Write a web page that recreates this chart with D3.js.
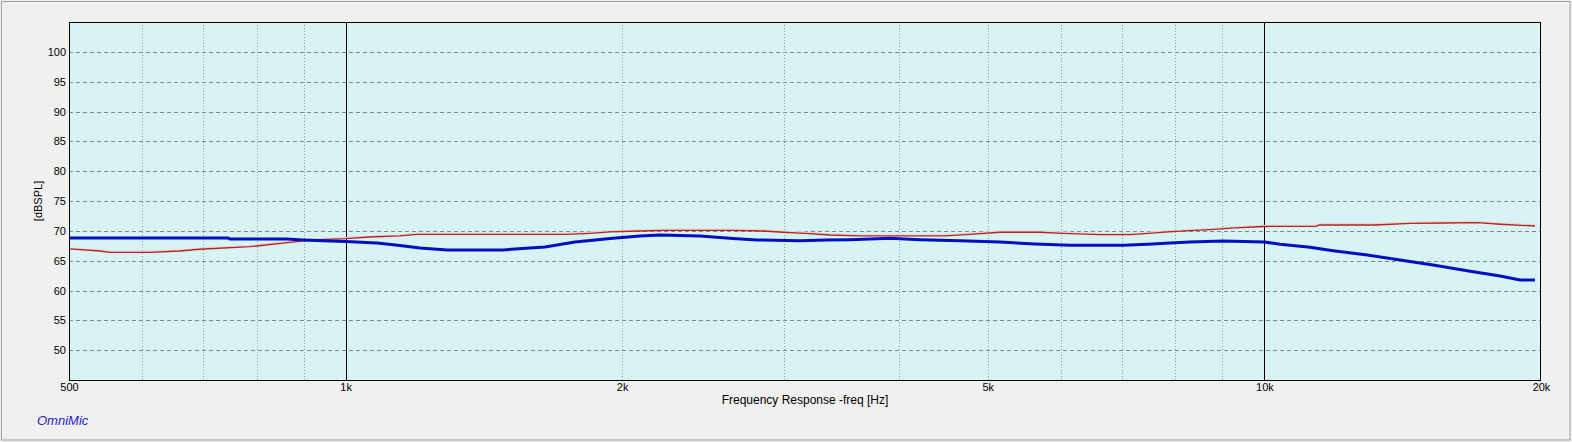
<!DOCTYPE html>
<html>
<head>
<meta charset="utf-8">
<script src="https://cdn.jsdelivr.net/npm/d3@7"></script>
<style>
  html, body { margin: 0; padding: 0; background: #f0f0f0; }
  svg { display: block; }
  text { font-family: "Liberation Sans", Arial, sans-serif; }
</style>
</head>
<body>
<script>
// ---- data ----
const blueFreq = [500, 745, 748, 863, 899, 962, 1000, 1082, 1146, 1205, 1290, 1484, 1529, 1648, 1777, 1940, 2091, 2199, 2431, 2640, 2804, 3123, 3342, 3540, 3914, 4220, 4665, 5157, 5628, 6143, 7019, 7469, 7896, 8300, 9016, 10000, 10400, 11210, 11880, 12940, 14050, 15260, 16620, 18050, 18980, 19700];
const blueDb   = [68.80, 68.80, 68.63, 68.63, 68.47, 68.30, 68.20, 67.96, 67.54, 67.12, 66.79, 66.79, 66.96, 67.29, 68.13, 68.72, 69.14, 69.30, 69.14, 68.72, 68.47, 68.35, 68.47, 68.52, 68.75, 68.52, 68.35, 68.13, 67.80, 67.58, 67.58, 67.75, 67.96, 68.13, 68.30, 68.13, 67.74, 67.24, 66.67, 65.95, 65.11, 64.28, 63.32, 62.43, 61.76, 61.76];

const redFreq = [500, 540, 554, 613, 660, 694, 787, 870, 921, 1000, 1063, 1146, 1196, 1741, 1845, 1940, 2091, 2227, 2621, 2847, 2993, 3162, 3368, 3630, 4491, 4782, 5157, 5699, 6036, 6624, 7140, 7414, 7857, 8300, 8727, 9291, 10000, 11380, 11480, 13200, 14410, 15730, 17080, 18050, 19700];
const redDb   = [66.96, 66.62, 66.40, 66.40, 66.62, 66.91, 67.34, 68.08, 68.47, 68.68, 68.97, 69.14, 69.42, 69.42, 69.59, 69.81, 69.97, 70.09, 70.09, 69.97, 69.76, 69.59, 69.30, 69.14, 69.14, 69.42, 69.76, 69.76, 69.59, 69.35, 69.35, 69.52, 69.81, 70.02, 70.19, 70.48, 70.73, 70.76, 70.98, 70.98, 71.26, 71.31, 71.36, 71.10, 70.81];

const yTicks = [50, 55, 60, 65, 70, 75, 80, 85, 90, 95, 100];
const xTickValues = [500, 1000, 2000, 5000, 10000, 20000];
const xTickLabels = ["500", "1k", "2k", "5k", "10k", "20k"];
const minorGridFreqs = [600, 700, 800, 900, 2000, 3000, 4000, 5000, 6000, 7000, 8000, 9000];
const majorLineFreqs = [1000, 10000];
const xDomain = [500, 20000];
const yDomain = [45, 105];
const xTitle = "Frequency Response -freq [Hz]";
const yTitle = "[dBSPL]";
const brand = "OmniMic";

// ---- layout ----
const W = 1572, H = 442;
const L = 69, R = 1541, T = 22, B = 380;

const svg = d3.select("body").append("svg").attr("width", W).attr("height", H);

svg.append("rect").attr("x", 0).attr("y", 0).attr("width", W).attr("height", H).attr("fill", "#f0f0f0");
svg.append("rect").attr("x", 1.5).attr("y", 1.5).attr("width", W - 3.5).attr("height", H - 3.5)
  .attr("fill", "none").attr("stroke", "#a0a0a0").attr("stroke-width", 1);

const x = d3.scaleLog().domain(xDomain).range([L, R]);
const y = d3.scaleLinear().domain(yDomain).range([B, T]);

// plot background
svg.append("rect").attr("x", L).attr("y", T).attr("width", R - L).attr("height", B - T).attr("fill", "#d8f3f3");

// horizontal dashed grid
svg.append("g").selectAll("line").data(yTicks).join("line")
  .attr("x1", L).attr("x2", R)
  .attr("y1", d => Math.round(y(d)) + 0.5).attr("y2", d => Math.round(y(d)) + 0.5)
  .attr("stroke", "#7a8a8a").attr("stroke-width", 1).attr("stroke-dasharray", "4,3");

// vertical dotted grid
svg.append("g").selectAll("line").data(minorGridFreqs).join("line")
  .attr("x1", d => Math.round(x(d)) + 0.5).attr("x2", d => Math.round(x(d)) + 0.5)
  .attr("y1", T).attr("y2", B)
  .attr("stroke", "#8a9a9a").attr("stroke-width", 1).attr("stroke-dasharray", "1,2");

// major solid verticals
svg.append("g").selectAll("line").data(majorLineFreqs).join("line")
  .attr("x1", d => Math.round(x(d)) + 0.5).attr("x2", d => Math.round(x(d)) + 0.5)
  .attr("y1", T).attr("y2", B)
  .attr("stroke", "#000").attr("stroke-width", 1);

// curves
const line = d3.line().x(d => x(d[0])).y(d => y(d[1]));
const redPts = redFreq.map((f, i) => [f, redDb[i]]);
const bluePts = blueFreq.map((f, i) => [f, blueDb[i]]);

svg.append("path").datum(redPts).attr("d", line)
  .attr("fill", "none").attr("stroke", "#f2cfcf").attr("stroke-width", 1.2).attr("transform", "translate(0,-1.2)");
svg.append("path").datum(redPts).attr("d", line)
  .attr("fill", "none").attr("stroke", "#b42222").attr("stroke-width", 1.3);
svg.append("path").datum(bluePts).attr("d", line)
  .attr("fill", "none").attr("stroke", "#0010c0").attr("stroke-width", 3);

// plot border
svg.append("rect").attr("x", L + 0.5).attr("y", T + 0.5).attr("width", R - L - 1).attr("height", B - T)
  .attr("fill", "none").attr("stroke", "#000").attr("stroke-width", 1);

// y axis labels
const yAxis = d3.axisLeft(y).tickValues(yTicks).tickSize(0).tickPadding(3).tickFormat(d3.format("d"));
const gy = svg.append("g").attr("transform", `translate(${L},0)`).call(yAxis);
gy.select(".domain").remove();
gy.selectAll("text").attr("font-family", "Liberation Sans, Arial, sans-serif").attr("font-size", 11).attr("fill", "#000");

// x axis labels
const xAxis = d3.axisBottom(x).tickValues(xTickValues).tickSize(0).tickPadding(3)
  .tickFormat((d, i) => xTickLabels[i]);
const gx = svg.append("g").attr("transform", `translate(0,${B})`).call(xAxis);
gx.select(".domain").remove();
gx.selectAll("text").attr("font-family", "Liberation Sans, Arial, sans-serif").attr("font-size", 11).attr("fill", "#000");

// titles
svg.append("text").attr("x", (L + R) / 2).attr("y", 404).attr("text-anchor", "middle")
  .attr("font-size", 12).attr("fill", "#000").text(xTitle);
svg.append("text").attr("transform", `translate(42,${(T + B) / 2}) rotate(-90)`).attr("text-anchor", "middle")
  .attr("font-size", 11).attr("fill", "#000").text(yTitle);
svg.append("text").attr("x", 37).attr("y", 425).attr("font-size", 13).attr("font-style", "italic")
  .attr("fill", "#2222cc").text(brand);
</script>
</body>
</html>
